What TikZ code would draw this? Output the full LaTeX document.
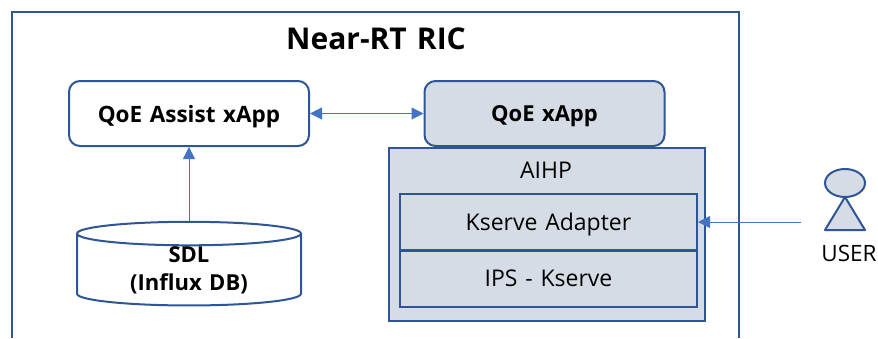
\documentclass[tikz,border=0pt]{standalone}
\usepackage{fontspec}
\setmainfont[WordSpace=1.3]{Open Sans}
\usetikzlibrary{shapes.geometric,arrows.meta}
\definecolor{framecol}{HTML}{2F5597}
\definecolor{arrowcol}{HTML}{4472C4}
\definecolor{fillcol}{HTML}{D6DCE5}
\tikzset{
  app/.style={draw=framecol, line width=2pt, rounded corners=11pt, inner sep=0pt, text depth=0pt, minimum width=240pt, minimum height=65pt, font=\fontsize{22.5}{24}\selectfont\bfseries},
  block/.style={draw=framecol, line width=2pt, fill=fillcol, inner sep=0pt, text depth=0pt, minimum width=297pt, minimum height=56pt, font=\fontsize{23}{26}\selectfont},
  link/.style={draw=arrowcol, line width=1pt, -{Triangle[length=12pt,width=12pt]}},
}
\begin{document}
\begin{tikzpicture}[x=1pt,y=-1pt]
\useasboundingbox (0,0) rectangle (878,338);
\coordinate (ricbl) at (12,338);
\coordinate (rictl) at (12,12);
\coordinate (rictr) at (739,12);
\coordinate (ricbr) at (739,338);
\draw[framecol, line width=2pt] (ricbl) -- (rictl) -- (rictr) -- (ricbr);
\node[font=\fontsize{30}{32}\selectfont\bfseries] (ric) at (376,39){Near-RT RIC};
\node[app] (assist) at (189,113.5){QoE Assist xApp};
\node[block, minimum width=316pt, minimum height=173pt] (aihp) at (547,234.5){};
\node[app, fill=fillcol, font=\fontsize{22}{24}\selectfont\bfseries] (qoe) at (544.5,113.5){QoE xApp};
\node[font=\fontsize{23}{26}\selectfont] (aihplabel) at (546,170){AIHP};
\node[block] (adapter) at (548.5,222){Kserve Adapter};
\node[block] (ips) at (548.5,278.5){IPS - Kserve};
\node[cylinder, shape border rotate=90, shape aspect=0.2, draw=framecol, line width=2pt, fill=white, inner sep=0pt, minimum width=224pt, minimum height=83pt, font=\fontsize{22}{28}\selectfont\bfseries, align=center] (sdl) at (189,270){SDL\\(Influx DB)};
\node[ellipse, draw=framecol, line width=2pt, fill=fillcol, inner sep=0pt, minimum width=40pt, minimum height=28pt] (head) at (845,183){};
\coordinate (bodytop) at (845,197);
\coordinate (bodyleft) at (825,230);
\coordinate (bodyright) at (865,230);
\draw[framecol, line width=2pt, fill=fillcol, line join=round] (bodytop) -- (bodyleft) -- (bodyright) -- cycle;
\node[font=\fontsize{22.5}{24}\selectfont] (user) at (849,253){USER};
\coordinate (userend) at (801,222);
\draw[link] (sdl.top) -- (assist.south);
\draw[link, {Triangle[length=12pt,width=12pt]}-{Triangle[length=12pt,width=12pt]}] (assist.east) -- (qoe.west);
\draw[link] (userend) -- (adapter.east);
\end{tikzpicture}
\end{document}
